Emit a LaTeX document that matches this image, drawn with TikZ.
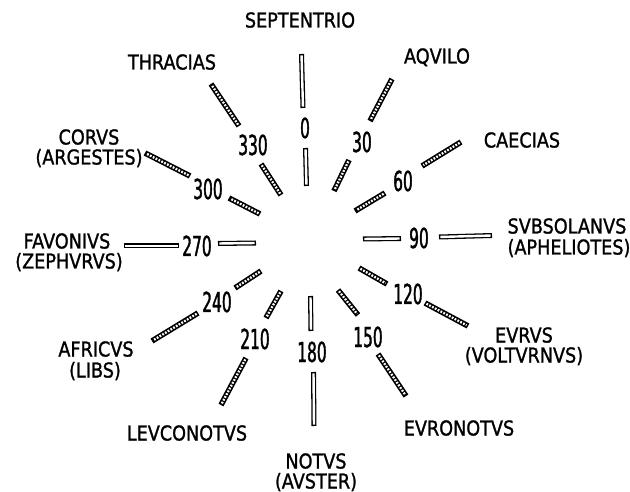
\documentclass[tikz,border=0pt]{standalone}
\usepackage{fontspec}
\newfontfamily\namefont[FakeStretch=0.86, FakeBold=1.2]{DejaVu Sans}
\newfontfamily\numfont[FakeStretch=0.56, FakeBold=1.4]{DejaVu Sans}
\tikzset{
  windname/.style={inner sep=0pt, text height=15pt, text depth=0pt, font=\namefont\fontsize{20.5}{22}\selectfont},
  windnum/.style={inner sep=0pt, text height=20pt, text depth=0pt, font=\numfont\fontsize{27.5}{28}\selectfont},
  barout/.style={line width=5pt},
  barin/.style={white, line width=2.4pt, shorten <=1.3pt, shorten >=1.3pt},
  chainout/.style={line width=5.6pt},
  chainin/.style={white, line width=2.3pt, dash pattern=on 1.8pt off 1.4pt, shorten <=1.6pt, shorten >=1.6pt}
}
\newcommand\plainbar[3]{%
  \coordinate (#1a) at #2; \coordinate (#1b) at #3;
  \draw[barout] (#1a) -- (#1b);
  \draw[barin] (#1a) -- (#1b);}
\newcommand\chainbar[3]{%
  \coordinate (#1a) at #2; \coordinate (#1b) at #3;
  \draw[chainout] (#1a) -- (#1b);
  \draw[chainin] (#1a) -- (#1b);}
\begin{document}
\begin{tikzpicture}[x=1pt, y=-1pt]
\useasboundingbox (0,0) rectangle (630,492);
% bars
\plainbar{o0}{(301.5,54)}{(303,108)}
\plainbar{i0}{(305.5,148)}{(306.5,186)}
\chainbar{o30}{(392,79)}{(370,121)}
\chainbar{i30}{(349,160)}{(334,191)}
\chainbar{o60}{(461,142)}{(422,166)}
\chainbar{i60}{(385,193)}{(355,211)}
\plainbar{i90}{(363,239)}{(401,238.5)}
\plainbar{o90}{(439,237)}{(492,235.5)}
\chainbar{i120}{(359,268)}{(387,284)}
\chainbar{o120}{(425,303)}{(468,326)}
\chainbar{i150}{(338,290)}{(358,315)}
\chainbar{o150}{(378,354)}{(406,396)}
\plainbar{i180}{(310.5,296)}{(311,331)}
\plainbar{o180}{(313.5,372)}{(314,426)}
\chainbar{i210}{(281,291)}{(266,318)}
\chainbar{o210}{(246,358)}{(221,405)}
\chainbar{i240}{(261,271)}{(235,288)}
\chainbar{o240}{(198,313)}{(152,341)}
\plainbar{i270}{(256,243)}{(218,243.5)}
\plainbar{o270}{(179,246)}{(124,246)}
\chainbar{i300}{(260,214)}{(229,198)}
\chainbar{o300}{(190,176)}{(145,153)}
\chainbar{i330}{(281,195)}{(261,164)}
\chainbar{o330}{(239,126)}{(211,84)}
% numbers
\node[windnum] (n0) at (305,128) {0};
\node[windnum] (n30) at (362,142) {30};
\node[windnum] (n60) at (403,181) {60};
\node[windnum] (n90) at (419,238) {90};
\node[windnum] (n120) at (408,294) {120};
\node[windnum] (n150) at (368,337) {150};
\node[windnum] (n180) at (312,352) {180};
\node[windnum] (n210) at (255,339) {210};
\node[windnum] (n240) at (217,302) {240};
\node[windnum] (n270) at (197,246) {270};
\node[windnum] (n300) at (208,189) {300};
\node[windnum] (n330) at (253,145) {330};
% names
\node[windname] (septentrio) at (300,20) {SEPTENTRIO};
\node[windname] (aqvilo) at (437,56) {AQVILO};
\node[windname] (caecias) at (522,140) {CAECIAS};
\node[windname] (svbsolanvs) at (567,226) {SVBSOLANVS};
\node[windname] (apheliotes) at (569,247) {(APHELIOTES)};
\node[windname] (evrvs) at (524,335) {EVRVS};
\node[windname] (voltvrnvs) at (524,355) {(VOLTVRNVS)};
\node[windname] (evronotvs) at (459,428) {EVRONOTVS};
\node[windname] (notvs) at (316,461) {NOTVS};
\node[windname] (avster) at (316,481) {(AVSTER)};
\node[windname] (levconotvs) at (187,433) {LEVCONOTVS};
\node[windname] (africvs) at (96,349) {AFRICVS};
\node[windname] (libs) at (95,370) {(LIBS)};
\node[windname] (favonivs) at (67,241) {FAVONIVS};
\node[windname] (zephyrvs) at (69,261) {(ZEPHVRVS)};
\node[windname] (corvs) at (89,137) {CORVS};
\node[windname] (argestes) at (89,157) {(ARGESTES)};
\node[windname] (thracias) at (172,62) {THRACIAS};
\end{tikzpicture}
\end{document}
